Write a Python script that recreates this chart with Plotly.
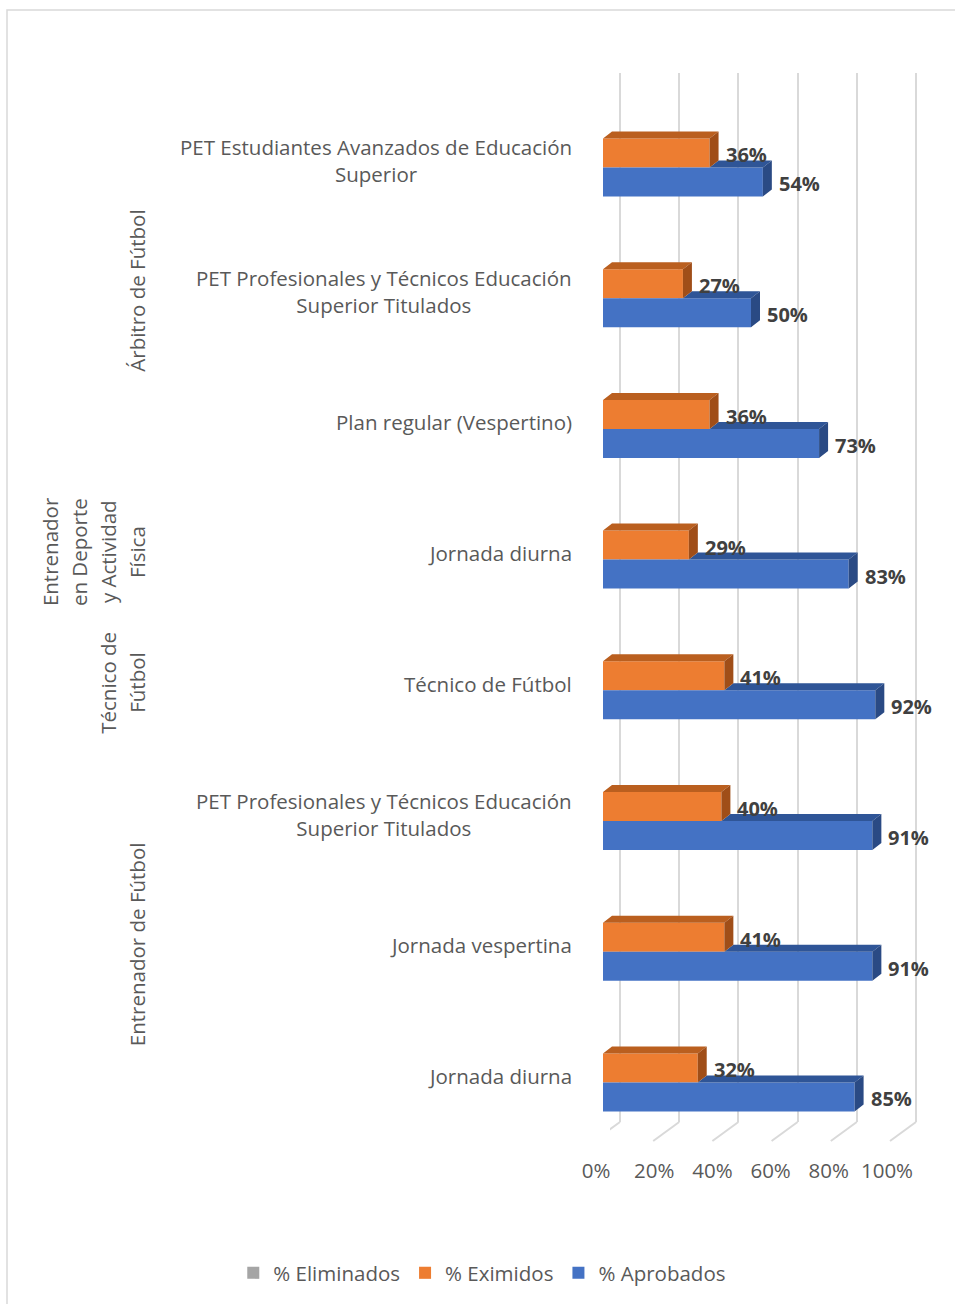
import plotly.graph_objects as go

W, H = 955, 1304

categories = [
    "PET Estudiantes Avanzados de Educación<br>Superior",
    "PET Profesionales y Técnicos Educación<br>Superior Titulados",
    "Plan regular (Vespertino)",
    "Jornada diurna",
    "Técnico de Fútbol",
    "PET Profesionales y Técnicos Educación<br>Superior Titulados",
    "Jornada vespertina",
    "Jornada diurna",
]
groups = [
    ["Árbitro de Fútbol"],
    ["Entrenador", "en Deporte", "y Actividad", "Física"],
    ["Técnico de", "Fútbol"],
    ["Entrenador de Fútbol"],
]
group_rows = [[0, 1, 2], [3], [4], [5, 6, 7]]

series_names = ["% Eliminados", "% Eximidos", "% Aprobados"]
eliminados = [0, 0, 0, 0, 0, 0, 0, 0]
eximidos = [36, 27, 36, 29, 41, 40, 41, 32]
aprobados = [54, 50, 73, 83, 92, 91, 91, 85]

x_ticks = [0, 20, 40, 60, 80, 100]
x_tick_labels = ["0%", "20%", "40%", "60%", "80%", "100%"]

# ---- style ----
GRAY_TXT = "#595959"
LBL_TXT = "#404040"
GRID = "#D9D9D9"
C_ELIM = "#A5A5A5"
C_EXIM = "#ED7D31"
C_EXIM_TOP = "#BA5F1F"
C_EXIM_SIDE = "#A04E18"
C_APRO = "#4472C4"
C_APRO_TOP = "#2F5597"
C_APRO_SIDE = "#2A4A84"
FONT = "Open Sans"
FS = 20.5

BAR_W = 0.222          # bar thickness in category units
DX = 3.04              # depth in value units
DY = 0.0536            # depth in category units
LINE_GAP = 29          # px between rotated label lines


def fx(p):
    return p / W


def fy(p):
    return 1 - p / H


PX_PER_UNIT = 2.96
idx = list(range(len(categories)))

fig = go.Figure()

# bars (front faces)
fig.add_trace(go.Bar(name=series_names[0], y=idx, x=eliminados, orientation="h",
                     width=BAR_W, offset=-1.5 * BAR_W, marker=dict(color=C_ELIM, line_width=0),
                     xaxis="x2", yaxis="y", hoverinfo="skip"))
fig.add_trace(go.Bar(name=series_names[1], y=idx, x=eximidos, orientation="h",
                     width=BAR_W, offset=-0.5 * BAR_W, marker=dict(color=C_EXIM, line_width=0),
                     xaxis="x2", yaxis="y", hoverinfo="skip"))
fig.add_trace(go.Bar(name=series_names[2], y=idx, x=aprobados, orientation="h",
                     width=BAR_W, offset=0.5 * BAR_W, marker=dict(color=C_APRO, line_width=0),
                     xaxis="x2", yaxis="y", hoverinfo="skip"))


# 3D faces, derived from the data
def faces(kind):
    xs, ys = [], []
    for i in idx:
        o, b = eximidos[i], aprobados[i]
        if kind == "apro_top":
            t = i + 0.5 * BAR_W
            pts = [(o, t), (b, t), (b + DX, t - DY), (o + DX, t - DY)]
        elif kind == "apro_side":
            t = i + 0.5 * BAR_W
            pts = [(b, t), (b, t + BAR_W), (b + DX, t + BAR_W - DY), (b + DX, t - DY)]
        elif kind == "exim_top":
            t = i - 0.5 * BAR_W
            pts = [(0, t), (o, t), (o + DX, t - DY), (DX, t - DY)]
        else:  # exim_side
            t = i - 0.5 * BAR_W
            pts = [(o, t), (o, t + BAR_W), (o + DX, t + BAR_W - DY), (o + DX, t - DY)]
        for px, py in pts + [pts[0]]:
            xs.append(px)
            ys.append(py)
        xs.append(None)
        ys.append(None)
    return xs, ys


for kind, col in [("apro_top", C_APRO_TOP), ("apro_side", C_APRO_SIDE),
                  ("exim_top", C_EXIM_TOP), ("exim_side", C_EXIM_SIDE)]:
    xs, ys = faces(kind)
    fig.add_trace(go.Scatter(x=xs, y=ys, mode="lines", fill="toself", fillcolor=col,
                             line=dict(width=0, color=col), showlegend=False,
                             hoverinfo="skip", xaxis="x2", yaxis="y"))

# helper traces for the tick-label axis and the back grid axis
fig.add_trace(go.Scatter(x=[None], y=[None], xaxis="x3", yaxis="y", showlegend=False,
                         hoverinfo="skip"))
fig.add_trace(go.Scatter(x=[None], y=[None], xaxis="x", yaxis="y", showlegend=False,
                         hoverinfo="skip"))

annotations = []
# data labels
for i in idx:
    annotations.append(dict(x=eximidos[i], y=i, xref="x2", yref="y", text=f"{eximidos[i]}%",
                            showarrow=False, xanchor="left", xshift=14, yshift=-2,
                            font=dict(family=FONT, size=20, color=LBL_TXT, weight="bold")))
    annotations.append(dict(x=aprobados[i], y=i + BAR_W, xref="x2", yref="y",
                            text=f"{aprobados[i]}%",
                            showarrow=False, xanchor="left", xshift=14, yshift=-2,
                            font=dict(family=FONT, size=20, color=LBL_TXT, weight="bold")))
# category labels
for i, c in enumerate(categories):
    annotations.append(dict(x=fx(574), y=i, xref="paper", yref="y", text=c, showarrow=False,
                            xanchor="right", yanchor="middle", align="center", yshift=-8,
                            font=dict(family=FONT, size=FS, color=GRAY_TXT)))
# group labels (rotated), one annotation per line for Excel-like line spacing
for lines, rows in zip(groups, group_rows):
    n = len(lines)
    for k, ln in enumerate(lines):
        annotations.append(dict(x=fx(137), y=sum(rows) / len(rows), xref="paper", yref="y",
                                text=ln, showarrow=False, textangle=-90, xanchor="center",
                                yanchor="middle", align="center", yshift=-7,
                                xshift=-(n - 1 - k) * LINE_GAP,
                                font=dict(family=FONT, size=FS, color=GRAY_TXT)))

shapes = [dict(type="rect", xref="paper", yref="paper", x0=fx(7), y0=fy(10), x1=1.02, y1=-0.02,
               line=dict(color=GRID, width=1.5), layer="below")]
for t in x_ticks:
    shapes.append(dict(type="line", xref="x", yref="paper", xsizemode="pixel", xanchor=t,
                       x0=0, x1=-26, y0=fy(1122), y1=fy(1141),
                       line=dict(color=GRID, width=2), layer="below"))

pad_back = 10 / PX_PER_UNIT
fig.update_layout(
    width=W, height=H, autosize=False,
    margin=dict(l=0, r=0, t=0, b=0, pad=0, autoexpand=False),
    paper_bgcolor="white", plot_bgcolor="rgba(0,0,0,0)",
    barmode="overlay",
    showlegend=True,
    legend=dict(orientation="h", x=0.505, xanchor="center", y=fy(1273), yanchor="middle",
                font=dict(family=FONT, size=FS, color=GRAY_TXT), traceorder="normal"),
    xaxis=dict(domain=[fx(620 - 10), fx(916 + 10)], range=[-pad_back, 100 + pad_back],
               tickvals=x_ticks, showticklabels=False, showgrid=True, gridcolor=GRID,
               gridwidth=2, zeroline=False, showline=False, ticks="", anchor="y",
               fixedrange=True),
    xaxis2=dict(domain=[fx(603 - 5 * PX_PER_UNIT), fx(603 + 115 * PX_PER_UNIT)], range=[-5, 115],
                visible=False, anchor="y", fixedrange=True),
    xaxis3=dict(domain=[fx(596 - 5 * 2.91), fx(596 + 105 * 2.91)], range=[-5, 105],
                tickvals=x_ticks, ticktext=x_tick_labels, showgrid=False, zeroline=False,
                showline=False, ticks="", anchor="free", position=fy(1156),
                tickfont=dict(family=FONT, size=FS, color=GRAY_TXT), fixedrange=True),
    yaxis=dict(domain=[fy(1122), fy(73)], range=[7.414, -0.612], visible=False,
               showgrid=False, zeroline=False, fixedrange=True),
    annotations=annotations,
    shapes=shapes,
)

fig.write_html("out.html", config={"responsive": False, "displayModeBar": False},
               post_script="document.body.style.margin='0';document.body.style.overflow='hidden';")
